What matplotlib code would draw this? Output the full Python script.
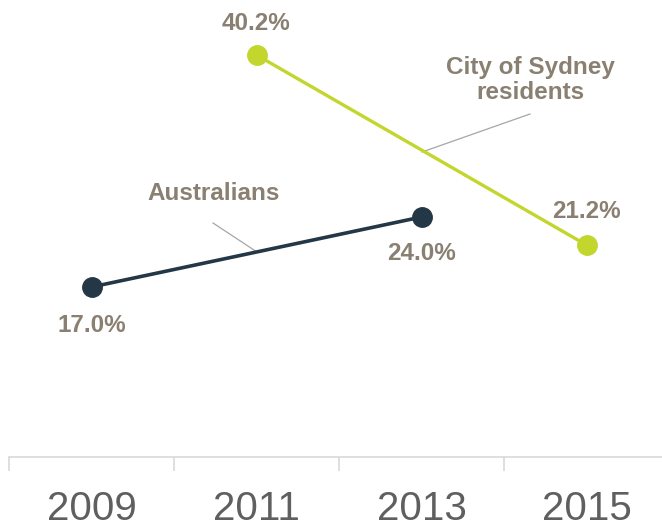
import matplotlib
matplotlib.use("Agg")
import matplotlib.pyplot as plt

years = ["2009", "2011", "2013", "2015"]
aus_years = ["2009", "2013"]
aus_values = [17.0, 24.0]
syd_years = ["2011", "2015"]
syd_values = [40.2, 21.2]

navy = "#243746"
lime = "#c2d62e"
label_col = "#8a8072"
tick_col = "#5f5f5f"

plt.rcParams["font.family"] = ["Liberation Sans", "DejaVu Sans"]

W, H = 662, 528
fig = plt.figure(figsize=(W / 100, H / 100), dpi=100)
# axes spans four 165px-wide categories starting at x=9; baseline at y=457
ax = fig.add_axes([9 / W, (H - 457) / H, 660 / W, 457 / H])
ax.set_xlim(0, 4)
ax.set_ylim(0, 45.7)

pos = {y: i + 0.5 for i, y in enumerate(years)}

ax.plot([pos[y] for y in aus_years], aus_values, color=navy, lw=2.6,
        marker="o", ms=14, solid_capstyle="round", zorder=3)
ax.plot([pos[y] for y in syd_years], syd_values, color=lime, lw=2.4,
        marker="o", ms=14, solid_capstyle="round", zorder=3)

lbl = dict(color=label_col, fontsize=17.5, fontweight="bold", ha="center", va="center")
# value labels
ax.annotate(f"{aus_values[0]:.1f}%", (pos[aus_years[0]], aus_values[0]),
            xytext=(0, -38), textcoords="offset pixels", **lbl)
ax.annotate(f"{aus_values[1]:.1f}%", (pos[aus_years[1]], aus_values[1]),
            xytext=(0, -37), textcoords="offset pixels", **lbl)
ax.annotate(f"{syd_values[0]:.1f}%", (pos[syd_years[0]], syd_values[0]),
            xytext=(0, 32), textcoords="offset pixels", **lbl)
ax.annotate(f"{syd_values[1]:.1f}%", (pos[syd_years[1]], syd_values[1]),
            xytext=(0, 33), textcoords="offset pixels", **lbl)

# series labels with leader lines
def px(x, y):
    return ax.transData.inverted().transform(fig.transFigure.transform((x / W, 1 - y / H)))

ax.plot(*zip(px(213, 223), px(257, 252)), color="#a6a6a6", lw=0.9, zorder=2)
ax.plot(*zip(px(530, 114), px(422, 152)), color="#a6a6a6", lw=0.9, zorder=2)
ax.text(*px(214, 193), "Australians", **lbl)
ax.text(*px(530, 80), "City of Sydney\nresidents", linespacing=1.15, **lbl)

# category axis
for s in ["top", "right", "left"]:
    ax.spines[s].set_visible(False)
ax.spines["bottom"].set_color("#d9d9d9")
ax.spines["bottom"].set_linewidth(1.2)
ax.set_yticks([])
ax.set_xticks(range(5))
ax.set_xticklabels([])
ax.tick_params(axis="x", length=10, width=1.2, color="#d9d9d9", direction="out")
ax.set_xticks([p for p in pos.values()], minor=True)
ax.set_xticklabels(years, minor=True, fontsize=29, color=tick_col)
ax.tick_params(axis="x", which="minor", length=0, pad=24)

fig.savefig("out.png", dpi=100)
